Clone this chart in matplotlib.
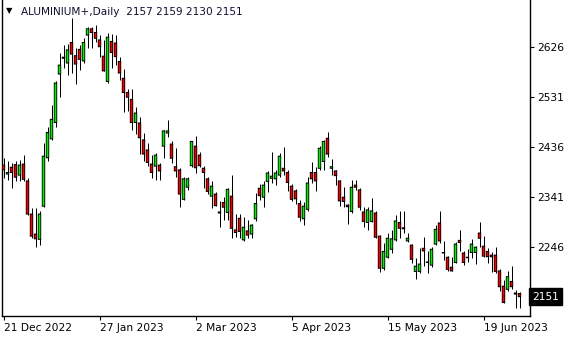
import matplotlib
matplotlib.use('Agg')
import matplotlib.pyplot as plt
import matplotlib.transforms as mtransforms
from matplotlib.patches import Rectangle
import numpy as np

symbol_title = "ALUMINIUM+,Daily  2157 2159 2130 2151"
last_price = 2151

opens = [2401, 2384, 2397, 2402, 2382, 2403, 2371, 2308, 2270, 2260,
         2323, 2415, 2451, 2482, 2574, 2604, 2595, 2634, 2609, 2621,
         2599, 2648, 2660, 2653, 2639, 2608, 2560, 2636, 2633, 2598,
         2566, 2539, 2526, 2482, 2481, 2449, 2430, 2403, 2399, 2401,
         2437, 2462, 2441, 2398, 2392, 2336, 2359, 2400, 2437, 2420,
         2395, 2375, 2342, 2346, 2312, 2330, 2311, 2342, 2278, 2300,
         2259, 2276, 2270, 2299, 2357, 2340, 2370, 2376, 2375, 2382,
         2395, 2387, 2361, 2352, 2328, 2299, 2317, 2387, 2387, 2395,
         2408, 2452, 2395, 2390, 2371, 2340, 2325, 2313, 2363, 2354,
         2312, 2292, 2294, 2310, 2266, 2205, 2226, 2241, 2259, 2292,
         2282, 2257, 2249, 2199, 2199, 2243, 2217, 2211, 2251, 2291,
         2235, 2226, 2207, 2216, 2258, 2234, 2226, 2235, 2235, 2272,
         2247, 2237, 2230, 2230, 2200, 2171, 2165, 2180, 2158, 2157]
highs = [2415, 2408, 2405, 2408, 2411, 2420, 2376, 2320, 2320, 2313,
         2443, 2474, 2515, 2560, 2614, 2629, 2631, 2680, 2623, 2629,
         2642, 2664, 2664, 2667, 2648, 2639, 2652, 2650, 2648, 2607,
         2583, 2546, 2546, 2512, 2493, 2462, 2443, 2420, 2424, 2405,
         2468, 2487, 2446, 2433, 2395, 2378, 2379, 2447, 2456, 2425,
         2399, 2379, 2370, 2349, 2332, 2341, 2357, 2382, 2308, 2308,
         2303, 2297, 2290, 2348, 2365, 2371, 2390, 2425, 2392, 2424,
         2435, 2392, 2365, 2355, 2335, 2330, 2378, 2406, 2398, 2437,
         2449, 2463, 2412, 2392, 2373, 2360, 2328, 2373, 2373, 2357,
         2321, 2322, 2338, 2313, 2268, 2253, 2272, 2278, 2306, 2313,
         2313, 2272, 2251, 2224, 2243, 2265, 2237, 2246, 2287, 2313,
         2256, 2228, 2227, 2254, 2278, 2237, 2241, 2260, 2247, 2292,
         2266, 2243, 2235, 2246, 2203, 2183, 2199, 2209, 2164, 2159]
lows = [2377, 2373, 2358, 2370, 2370, 2370, 2306, 2263, 2246, 2249,
        2322, 2408, 2449, 2474, 2531, 2585, 2572, 2576, 2555, 2582,
        2595, 2623, 2624, 2634, 2607, 2579, 2557, 2586, 2591, 2563,
        2501, 2503, 2468, 2460, 2422, 2408, 2399, 2377, 2373, 2373,
        2414, 2455, 2405, 2379, 2322, 2335, 2354, 2398, 2386, 2398,
        2357, 2346, 2319, 2323, 2284, 2297, 2297, 2262, 2264, 2262,
        2256, 2262, 2262, 2294, 2335, 2322, 2349, 2367, 2363, 2379,
        2382, 2351, 2332, 2327, 2294, 2287, 2314, 2367, 2351, 2392,
        2392, 2417, 2382, 2363, 2323, 2322, 2290, 2310, 2354, 2316,
        2284, 2278, 2292, 2262, 2197, 2202, 2224, 2234, 2256, 2262,
        2272, 2254, 2215, 2184, 2196, 2209, 2196, 2208, 2249, 2253,
        2220, 2199, 2200, 2215, 2237, 2211, 2216, 2224, 2213, 2246,
        2226, 2215, 2197, 2196, 2161, 2139, 2162, 2165, 2129, 2130]
closes = [2392, 2387, 2387, 2378, 2401, 2374, 2308, 2266, 2261, 2308,
          2418, 2463, 2488, 2557, 2591, 2606, 2620, 2612, 2593, 2602,
          2634, 2660, 2653, 2642, 2626, 2580, 2644, 2615, 2607, 2576,
          2539, 2530, 2482, 2500, 2453, 2422, 2406, 2387, 2420, 2390,
          2466, 2466, 2414, 2390, 2346, 2375, 2375, 2446, 2396, 2400,
          2387, 2351, 2361, 2324, 2310, 2321, 2355, 2281, 2273, 2275,
          2283, 2268, 2287, 2328, 2343, 2363, 2386, 2380, 2386, 2418,
          2390, 2368, 2336, 2337, 2302, 2323, 2367, 2375, 2371, 2433,
          2446, 2422, 2398, 2381, 2333, 2332, 2322, 2359, 2359, 2321,
          2294, 2316, 2314, 2264, 2205, 2237, 2262, 2261, 2295, 2281,
          2280, 2262, 2222, 2209, 2213, 2238, 2216, 2241, 2279, 2257,
          2234, 2203, 2200, 2251, 2254, 2216, 2225, 2251, 2245, 2262,
          2228, 2227, 2227, 2199, 2170, 2140, 2189, 2170, 2156, 2151]

x_tick_bars = [0, 24, 48, 72, 96, 120]
x_tick_labels = ["21 Dec 2022", "27 Jan 2023", "2 Mar 2023", "5 Apr 2023",
                 "15 May 2023", "19 Jun 2023"]
y_ticks = [2246, 2341, 2436, 2531, 2626]

BULL = '#00f000'
BEAR = '#f00000'
FS = 7.7

W, H = 580, 340
fig = plt.figure(figsize=(W / 100, H / 100), dpi=100)
fig.patch.set_facecolor('white')

ax_left, ax_right, ax_top, ax_bottom = 2, 530, 0, 316
ax = fig.add_axes([ax_left / W, 1 - ax_bottom / H,
                   (ax_right - ax_left) / W, (ax_bottom - ax_top) / H])
ax.set_facecolor('white')

o = np.array(opens, float)
h = np.array(highs, float)
l = np.array(lows, float)
c = np.array(closes, float)
x = np.arange(len(o))

px_per_bar = 4.0
x0_px = 3.5
ax.set_xlim((ax_left - x0_px) / px_per_bar, (ax_right - x0_px) / px_per_bar)


def price_at(y):
    return 2341 + (196.7 - y) * 1.9


ax.set_ylim(price_at(ax_bottom), price_at(ax_top))
unit_per_px = 1.9
bar_per_px = 1 / px_per_bar

ax.vlines(x, l, h, color='black', linewidth=0.72, zorder=1)

outer_w = 3.4 * bar_per_px
inner_w = 1.7 * bar_per_px
edge = 1.0 * unit_per_px
for xi, oi, ci in zip(x, o, c):
    lo, hi = min(oi, ci), max(oi, ci)
    col = BULL if ci >= oi else BEAR
    ax.add_patch(Rectangle((xi - outer_w / 2, lo - edge / 2), outer_w,
                           (hi - lo) + edge, facecolor='black',
                           edgecolor='none', zorder=2, snap=False))
    if hi - lo > edge * 1.2:
        ax.add_patch(Rectangle((xi - inner_w / 2, lo + edge / 2), inner_w,
                               (hi - lo) - edge, facecolor=col,
                               edgecolor='none', zorder=3, snap=False))

ax.spines['top'].set_visible(False)
for s in ['left', 'right', 'bottom']:
    ax.spines[s].set_color('black')
    ax.spines[s].set_linewidth(1.0)

ax.yaxis.tick_right()
ax.set_yticks(y_ticks)
ax.set_yticklabels([str(v) for v in y_ticks])
ax.tick_params(axis='y', direction='out', length=3, width=0.8, pad=2,
               labelsize=FS, colors='black', left=False)
ax.set_xticks(x_tick_bars)
ax.set_xticklabels(x_tick_labels, ha='left')
ax.tick_params(axis='x', direction='out', length=3, width=0.8, pad=2,
               labelsize=FS, colors='black')

trans = mtransforms.blended_transform_factory(ax.transAxes, ax.transData)
ax.plot([1.0, 1.006], [last_price, last_price], color='black', lw=0.8,
        transform=trans, clip_on=False)
ax.text(1.004, last_price, str(last_price), transform=trans, ha='left',
        va='center', color='white', fontsize=FS,
        bbox=dict(boxstyle='square,pad=0.3', facecolor='black',
                  edgecolor='black'))

fig.text(6 / W, 1 - 11 / H, '\u25bc', fontsize=6, va='center', ha='left',
         color='black')
fig.text(21 / W, 1 - 12 / H, symbol_title, fontsize=7.6, va='center',
         ha='left', color='#101030')

fig.savefig('out.png', dpi=100)
